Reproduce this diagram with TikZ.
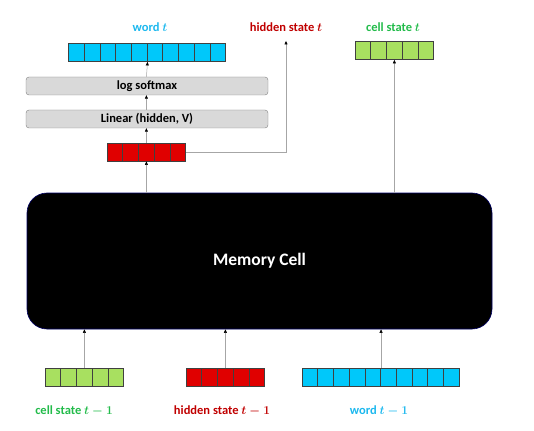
\documentclass[tikz,border=0pt]{standalone}
\usepackage{fontspec}
\setmainfont{Carlito}
\usetikzlibrary{arrows.meta}
\definecolor{cellblue}{HTML}{00C8FA}
\definecolor{cellred}{HTML}{E00000}
\definecolor{cellgreen}{HTML}{A8E060}
\definecolor{txtblue}{HTML}{1CB8EE}
\definecolor{txtred}{HTML}{C00000}
\definecolor{txtgreen}{HTML}{22BB4A}

\begin{document}
\begin{tikzpicture}[x=1pt, y=-1pt,
  unit/.style={draw=black!75, line width=0.8pt, minimum width=15.7pt, minimum height=18pt, inner sep=0pt},
  layer/.style={draw=black!50, fill=black!15, rounded corners=3pt, minimum width=242pt,
    minimum height=18pt, inner sep=0pt, font=\bfseries\fontsize{12.5}{14}\selectfont},
  link/.style={draw=black!35, line width=0.5pt, -{Triangle[length=3.5pt,width=3pt,color=black]}},
  lab/.style={font=\bfseries\boldmath\fontsize{12.5}{14}\selectfont}]
  \useasboundingbox (0,0) rectangle (534,430);
  \node[fill=black, draw=blue!40!black, line width=0.6pt, rounded corners=20pt, minimum width=465pt,
    minimum height=136pt, text=white, font=\bfseries\fontsize{17.5}{20}\selectfont] (mem) at (259.5,261) {Memory Cell};
  \node[layer] (logsm) at (147,86) {log softmax};
  \node[layer] (lin) at (147,119) {Linear (hidden, V)};
  % vectors, one node per unit
  \foreach \v/\x/\y/\n/\c in {wordT/76.5/52.5/10/cellblue, cellT/363/50.5/5/cellgreen, hidT/115/152/5/cellred,
      cellPrev/53/377/5/cellgreen, hidPrev/194/377/5/cellred, wordPrev/310/377/10/cellblue}
    \foreach \i in {1,...,\n}
      \node[unit, fill=\c] (\v-\i) at (\x+15.7*\i-15.7,\y) {};
  \node[lab, text=txtblue] (wordTlab) at (150,27) {word $t$};
  \node[lab, text=txtred] (hidTlab) at (286,27) {hidden state $t$};
  \node[lab, text=txtgreen] (cellTlab) at (393,27) {cell state $t$};
  \node[lab, text=txtgreen] (cellPrevlab) at (74,411) {cell state $t-1$};
  \node[lab, text=txtred] (hidPrevlab) at (222,411) {hidden state $t-1$};
  \node[lab, text=txtblue] (wordPrevlab) at (379,411) {word $t-1$};
  \draw[link] (mem.north -| hidT-3) -- (hidT-3.south);
  \draw[link] (hidT-3.north) -- (lin.south -| hidT-3);
  \draw[link] (lin.north -| hidT-3) -- (logsm.south -| hidT-3);
  \draw[link] (logsm.north -| hidT-3) -- (wordT-5.south east);
  \draw[link, shorten >=6pt] (hidT-5.east) -| (hidTlab.south);
  \draw[link] (mem.north -| cellT-3) -- (cellT-3.south);
  \draw[link] (cellPrev-3.north) -- (mem.south -| cellPrev-3);
  \draw[link] (hidPrev-3.north) -- (mem.south -| hidPrev-3);
  \draw[link] (wordPrev-5.north east) -- (mem.south -| wordPrev-5.east);
\end{tikzpicture}
\end{document}
